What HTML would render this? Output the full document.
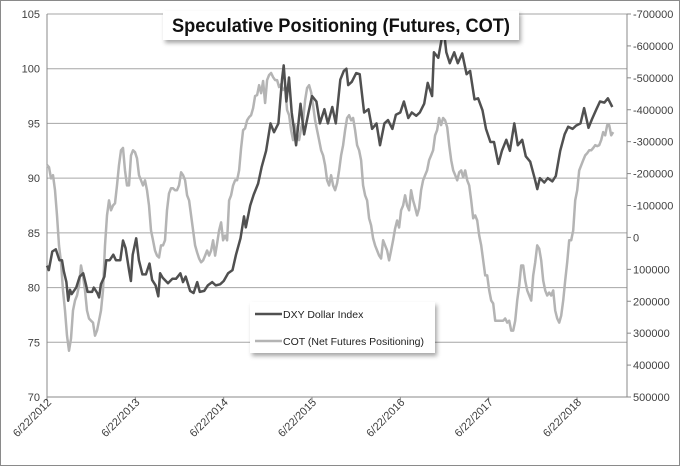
<!DOCTYPE html>
<html><head><meta charset="utf-8"><style>
html,body{margin:0;padding:0;background:#fff}
svg{display:block;font-family:"Liberation Sans",sans-serif}
</style></head><body>
<svg id="chart" width="680" height="466" viewBox="0 0 680 466" xmlns="http://www.w3.org/2000/svg">
<rect x="0.5" y="0.5" width="679" height="465" fill="#fff" stroke="#8a8a8a"/>
<g id="grid"></g><g id="axes"></g><g id="series"></g>
<defs><filter id="sh" x="-10%" y="-10%" width="130%" height="140%"><feDropShadow dx="2" dy="3" stdDeviation="2" flood-color="#000" flood-opacity="0.35"/></filter></defs>
<g>
<rect x="163" y="11" width="356" height="29" fill="#fff" filter="url(#sh)"/>
<text x="172" y="32" textLength="338" lengthAdjust="spacingAndGlyphs" font-weight="bold" font-size="19" fill="#111">Speculative Positioning (Futures, COT)</text>
</g>
<g>
<rect x="250" y="302" width="185" height="51" fill="#fff" filter="url(#sh)"/>
<g><line x1="255" y1="314" x2="282" y2="314" stroke="#505050" stroke-width="2.5"/><text x="283" y="318" font-size="10.5" fill="#222">DXY Dollar Index</text></g>
<g><line x1="255" y1="341" x2="282" y2="341" stroke="#b4b4b4" stroke-width="2.5"/><text x="283" y="345" font-size="10.5" fill="#222">COT (Net Futures Positioning)</text></g>
</g>
</svg>
<script>
const xTickLabels=["6/22/2012","6/22/2013","6/22/2014","6/22/2015","6/22/2016","6/22/2017","6/22/2018"];
const leftTicks=[70,75,80,85,90,95,100,105];
const rightTicks=[500000,400000,300000,200000,100000,0,-100000,-200000,-300000,-400000,-500000,-600000,-700000];
const dxyT=[0,.02,.06,.10,.14,.17,.19,.22,.24,.26,.28,.33,.37,.41,.44,.46,.51,.53,.57,.59,.61,.65,.67,.71,.75,.78,.83,.86,.89,.93,.95,.97,1.01,1.04,1.08,1.12,1.16,1.19,1.23,1.26,1.28,1.31,1.37,1.42,1.46,1.51,1.54,1.57,1.62,1.66,1.70,1.73,1.78,1.82,1.87,1.91,1.96,2.00,2.05,2.10,2.14,2.19,2.23,2.25,2.30,2.34,2.39,2.43,2.48,2.53,2.57,2.62,2.66,2.68,2.71,2.74,2.77,2.82,2.87,2.91,2.96,3.00,3.05,3.09,3.14,3.18,3.23,3.27,3.32,3.36,3.39,3.41,3.45,3.50,3.54,3.59,3.64,3.68,3.73,3.77,3.82,3.86,3.91,3.95,4.00,4.04,4.09,4.13,4.18,4.22,4.27,4.31,4.36,4.38,4.43,4.47,4.50,4.52,4.56,4.61,4.65,4.70,4.75,4.79,4.84,4.88,4.93,4.97,5.02,5.06,5.11,5.15,5.20,5.24,5.29,5.33,5.38,5.42,5.47,5.52,5.55,5.58,5.63,5.67,5.72,5.76,5.81,5.86,5.90,5.95,5.99,6.04,6.08,6.13,6.17,6.22,6.26,6.31,6.35,6.40];
const dxyValues=[82,81.6,83.3,83.5,82.5,82.5,81.5,80.5,78.8,79.8,79.4,80,81,81.3,80.3,79.6,79.6,80,79.5,79.1,80.3,81,82.5,82.5,83,82.5,82.5,84.3,83.6,81.5,80.6,83,84.5,82.5,81.2,81.2,82.2,80.7,80.2,79.2,81.3,80.9,80.4,80.8,80.8,81.3,80.5,81,79.7,79.5,80.5,79.6,79.7,80.2,80.5,80.2,80.3,80.6,81.3,81.6,83,84.5,86.5,85.5,87.5,88.5,89.5,91,92.5,95,94.2,95,99,100.3,97,99.2,96,93,96.8,94,96,97.5,97,95,96.3,95,96.5,95,99,99.8,100,98.5,98.8,99.6,99.5,96,96.3,94.5,95,93,95,95.3,94.5,95.8,96,97,95.5,96,95.7,96,96.8,98.7,97.5,101.5,101,102.8,103,101.5,100.5,101.5,100.5,101.4,99.5,99.8,97.2,97.3,96.2,94.5,93.3,93.3,91.3,92.5,93.5,92.5,95,93,93.5,92,91.5,90,89,90,89.6,90,89.7,90.2,92.5,94,94.7,94.5,94.8,95,96.4,94.6,95.4,96.3,97,96.9,97.3,96.5];
const cotStartYear=0;
const cotStepYears=0.02265;
const cotValues=[-227,-220,-185,-195,-148,-69,25,78,166,229,308,355,317,229,198,182,151,88,119,166,229,254,261,267,308,292,261,229,166,25,-69,-116,-85,-100,-107,-163,-227,-273,-280,-210,-163,-163,-257,-273,-267,-248,-195,-179,-163,-179,-148,-100,-22,9,41,57,63,25,25,9,-85,-138,-154,-154,-148,-148,-163,-204,-195,-179,-132,-116,-69,-22,25,47,66,78,72,57,41,57,41,9,57,19,-22,-47,9,-6,9,-116,-132,-163,-179,-179,-210,-280,-336,-342,-367,-377,-383,-405,-443,-446,-477,-452,-490,-421,-493,-509,-515,-502,-493,-493,-471,-480,-462,-468,-399,-383,-336,-305,-352,-320,-305,-342,-367,-430,-468,-477,-455,-414,-367,-336,-305,-273,-257,-226,-179,-163,-195,-163,-148,-170,-210,-257,-289,-336,-374,-383,-367,-374,-336,-289,-273,-242,-163,-132,-116,-60,-38,3,25,41,57,66,9,25,41,72,41,9,-28,-53,-31,-85,-100,-132,-100,-85,-148,-116,-94,-69,-91,-148,-179,-195,-210,-242,-257,-273,-320,-336,-374,-352,-374,-367,-345,-289,-242,-210,-195,-179,-204,-210,-188,-210,-179,-163,-116,-60,-69,-53,-6,25,72,119,119,166,198,207,261,261,261,261,261,254,267,261,292,292,261,198,151,88,88,135,166,182,198,119,78,25,35,72,135,166,182,173,182,166,229,254,267,245,198,135,78,9,9,-22,-116,-148,-210,-226,-242,-257,-264,-273,-273,-280,-289,-286,-289,-305,-330,-320,-352,-352,-320,-330];
const cotScale=1000;

const X0=47,X1=627,Y0=14,Y1=397;
const xs=t=>X0+t*(577-47)/6;
const yL=v=>Y1-(v-70)/(105-70)*(Y1-Y0);
const yR=v=>Y0+(v-(-700000))/1200000*(Y1-Y0);
const NS="http://www.w3.org/2000/svg";
function mk(tag,attrs,parent,txt){const e=document.createElementNS(NS,tag);for(const k in attrs)e.setAttribute(k,attrs[k]);if(txt!==undefined)e.textContent=txt;parent.appendChild(e);return e;}
const grid=document.getElementById('grid'),axes=document.getElementById('axes'),ser=document.getElementById('series');
leftTicks.forEach(v=>{
  const y=yL(v);
  if(v>70){const g=mk('line',{x1:X0,x2:X1,y1:y,y2:y,stroke:'#a6a6a6','stroke-width':1},grid);
  
  }
  const t=mk('text',{x:X0-7,y:y+4,'text-anchor':'end','font-size':11,fill:'#404040'},axes,String(v));
  
  
});
rightTicks.forEach(v=>{
  const y=yR(v);
  mk('line',{x1:X1,x2:X1+4,y1:y,y2:y,stroke:'#888'},axes);
  const t=mk('text',{x:X1+6,y:y+4,'font-size':11,fill:'#404040'},axes,String(v));
  
  
});
mk('line',{x1:X0,x2:X0,y1:Y0,y2:Y1,stroke:'#888'},axes);
mk('line',{x1:X1,x2:X1,y1:Y0,y2:Y1,stroke:'#888'},axes);
mk('line',{x1:X0,x2:X1,y1:Y1,y2:Y1,stroke:'#888'},axes);
xTickLabels.forEach((s,i)=>{
  const x=xs(i);
  mk('line',{x1:x,x2:x,y1:Y1,y2:Y1+4,stroke:'#888'},axes);
  const ax=x+5,ay=Y1+6;
  const t=mk('text',{x:ax,y:ay,'text-anchor':'end','font-size':11,fill:'#404040',transform:`rotate(-45 ${ax} ${ay})`},axes,s);
  
  
});
const cotPts=cotValues.map((v,i)=>xs(cotStartYear+i*cotStepYears).toFixed(1)+','+yR(v*cotScale).toFixed(1)).join(' ');
const cl=mk('polyline',{points:cotPts,fill:'none',stroke:'#b4b4b4','stroke-width':2.5,'stroke-linejoin':'round'},ser);


const dxyPts=dxyValues.map((v,i)=>xs(dxyT[i]).toFixed(1)+','+yL(v).toFixed(1)).join(' ');
const dl=mk('polyline',{points:dxyPts,fill:'none',stroke:'#505050','stroke-width':2.5,'stroke-linejoin':'round'},ser);


</script>
</body></html>
